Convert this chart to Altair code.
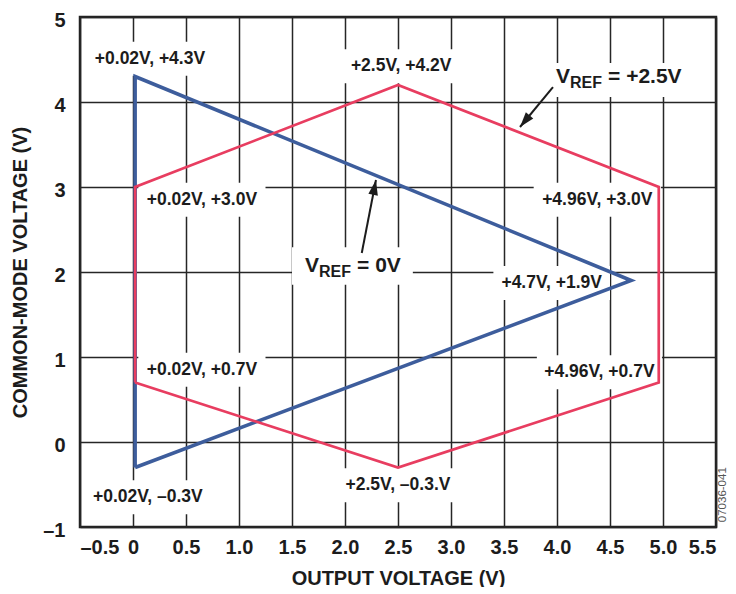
import altair as alt
import pandas as pd

# ---- data ----
blue_x = [0.02, 0.02, 4.7, 0.02]
blue_y = [-0.3, 4.3, 1.9, -0.3]
red_x = [0.02, 0.02, 2.5, 4.96, 4.96, 2.5, 0.02]
red_y = [0.7, 3.0, 4.2, 3.0, 0.7, -0.3, 0.7]

label_text = ["+0.02V, +4.3V", "+2.5V, +4.2V", "+0.02V, +3.0V", "+4.96V, +3.0V",
              "+4.7V, +1.9V", "+0.02V, +0.7V", "+4.96V, +0.7V", "+0.02V, \u20130.3V",
              "+2.5V, \u20130.3.V"]
label_x = [0.16, 2.53, 0.65, 4.38, 3.95, 0.65, 4.40, 0.14, 2.50]
label_y = [4.51, 4.42, 2.85, 2.85, 1.87, 0.85, 0.82, -0.65, -0.51]
label_halfw = [0.60, 0.57, 0.60, 0.60, 0.55, 0.60, 0.59, 0.59, 0.58]

vref_tail = ["= 0V", "= +2.5V"]
vref_x = [1.623, 3.991]
vref_y = [2.0, 4.224]
vref_box_x = [2.07, 4.60]
vref_box_y = [2.07, 4.26]
vref_box_hw = [0.57, 0.67]

arrow_x = [2.158, 3.962]
arrow_y = [2.224, 4.176]
arrow_x2 = [2.292, 3.651]
arrow_y2 = [3.082, 3.706]
arrow_angle = [10.9, 219.5]

x_ticks = [-0.5, 0, 0.5, 1.0, 1.5, 2.0, 2.5, 3.0, 3.5, 4.0, 4.5, 5.0, 5.5]
y_ticks = [-1, 0, 1, 2, 3, 4, 5]

FONT = "Liberation Sans"
INK = "#1c1c1c"
BLUE = "#3d5d9c"
RED = "#e83d60"

# ---- tables ----
blue_df = pd.DataFrame({"x": blue_x, "y": blue_y, "i": range(len(blue_x))})
red_df = pd.DataFrame({"x": red_x, "y": red_y, "i": range(len(red_x))})
lab_df = pd.DataFrame({"t": label_text, "x": label_x, "y": label_y, "hw": label_halfw})
box_df = pd.DataFrame({
    "cx": label_x + vref_box_x,
    "cy": label_y + vref_box_y,
    "hw": label_halfw + vref_box_hw,
    "hh": [0.2] * len(label_x) + [0.22, 0.2],
})
box_df["x1"] = box_df.cx - box_df.hw
box_df["x2"] = box_df.cx + box_df.hw
box_df["y1"] = box_df.cy - box_df.hh
box_df["y2"] = box_df.cy + box_df.hh
vref_df = pd.DataFrame({"x": vref_x, "y": vref_y, "tail": vref_tail, "v": ["V", "V"], "sub": ["REF", "REF"]})
arrow_df = pd.DataFrame({"x": arrow_x, "y": arrow_y, "x2": arrow_x2, "y2": arrow_y2, "a": arrow_angle})
code_df = pd.DataFrame({"x": [5.565], "y": [-0.62], "t": ["07036-041"]})

xscale = alt.Scale(domain=[-0.5, 5.5], nice=False, zero=False)
yscale = alt.Scale(domain=[-1, 5], nice=False, zero=False)

xaxis = alt.Axis(
    values=x_ticks, grid=True, ticks=False, domain=False,
    labelExpr="datum.value == 0 ? '0' : (datum.value < 0 ? '\u2013' : '') + format(abs(datum.value), '.1f')",
    labelFontSize=20, labelFontWeight="bold", labelFont=FONT, labelColor=INK, labelPadding=10,
    title="OUTPUT VOLTAGE (V)", titleFontSize=20, titleFontWeight="bold", titleFont=FONT,
    titleColor=INK, titlePadding=11,
    gridColor="#262626", gridWidth=1.5, gridOpacity=1,
)
yaxis = alt.Axis(
    values=y_ticks, grid=True, ticks=False, domain=False,
    labelExpr="(datum.value < 0 ? '\u2013' : '') + format(abs(datum.value), 'd')",
    labelFontSize=20, labelFontWeight="bold", labelFont=FONT, labelColor=INK, labelPadding=15,
    labelOffset=3,
    title="COMMON-MODE VOLTAGE (V)", titleFontSize=20, titleFontWeight="bold", titleFont=FONT,
    titleColor=INK, titlePadding=12,
    gridColor="#262626", gridWidth=1.5, gridOpacity=1,
)

boxes = alt.Chart(box_df).mark_rect(color="white").encode(
    x=alt.X("x1:Q", scale=xscale, axis=xaxis),
    x2="x2:Q",
    y=alt.Y("y1:Q", scale=yscale, axis=yaxis),
    y2="y2:Q",
)

blue = alt.Chart(blue_df).mark_line(color=BLUE, strokeWidth=3.6, strokeJoin="miter").encode(
    x=alt.X("x:Q", scale=xscale), y=alt.Y("y:Q", scale=yscale), order="i:Q")
red = alt.Chart(red_df).mark_line(color=RED, strokeWidth=2.7, strokeJoin="miter").encode(
    x=alt.X("x:Q", scale=xscale), y=alt.Y("y:Q", scale=yscale), order="i:Q")

arrow_lines = alt.Chart(arrow_df).mark_rule(color=INK, strokeWidth=2).encode(
    x=alt.X("x:Q", scale=xscale), y=alt.Y("y:Q", scale=yscale), x2="x2:Q", y2="y2:Q")
arrow_heads = alt.Chart(arrow_df).mark_point(
    shape="M0,0L0.48,1.5L-0.48,1.5Z", filled=True, color=INK, opacity=1, size=400, strokeWidth=0
).encode(
    x=alt.X("x2:Q", scale=xscale), y=alt.Y("y2:Q", scale=yscale), angle=alt.Angle("a:Q", scale=None))

labels = alt.Chart(lab_df).mark_text(
    font=FONT, fontSize=17.5, fontWeight="bold", color=INK, align="center", baseline="middle"
).encode(x=alt.X("x:Q", scale=xscale), y=alt.Y("y:Q", scale=yscale), text="t:N")

v_main = alt.Chart(vref_df).mark_text(
    font=FONT, fontSize=21, fontWeight="bold", color=INK, align="left", baseline="alphabetic"
).encode(x=alt.X("x:Q", scale=xscale), y=alt.Y("y:Q", scale=yscale), text="v:N")
v_sub = alt.Chart(vref_df).mark_text(
    font=FONT, fontSize=16, fontWeight="bold", color=INK, align="left", baseline="alphabetic", dx=14, dy=5
).encode(x=alt.X("x:Q", scale=xscale), y=alt.Y("y:Q", scale=yscale), text="sub:N")
v_tail = alt.Chart(vref_df).mark_text(
    font=FONT, fontSize=21, fontWeight="bold", color=INK, align="left", baseline="alphabetic", dx=52
).encode(x=alt.X("x:Q", scale=xscale), y=alt.Y("y:Q", scale=yscale), text="tail:N")

code = alt.Chart(code_df).mark_text(
    font=FONT, fontSize=11.5, color="#555555", angle=270, align="center", baseline="middle"
).encode(x=alt.X("x:Q", scale=xscale), y=alt.Y("y:Q", scale=yscale), text="t:N")

chart = alt.layer(
    boxes, blue, red, arrow_lines, arrow_heads, labels, v_main, v_sub, v_tail, code
).properties(
    width=636, height=510,
    autosize=alt.AutoSizeParams(type="none"),
    padding={"left": 72, "top": 9, "right": 12, "bottom": 60},
    background="white",
).configure_view(stroke="#222222", strokeWidth=2.5)

chart.save("out.html", embed_options={"renderer": "svg", "actions": False})
